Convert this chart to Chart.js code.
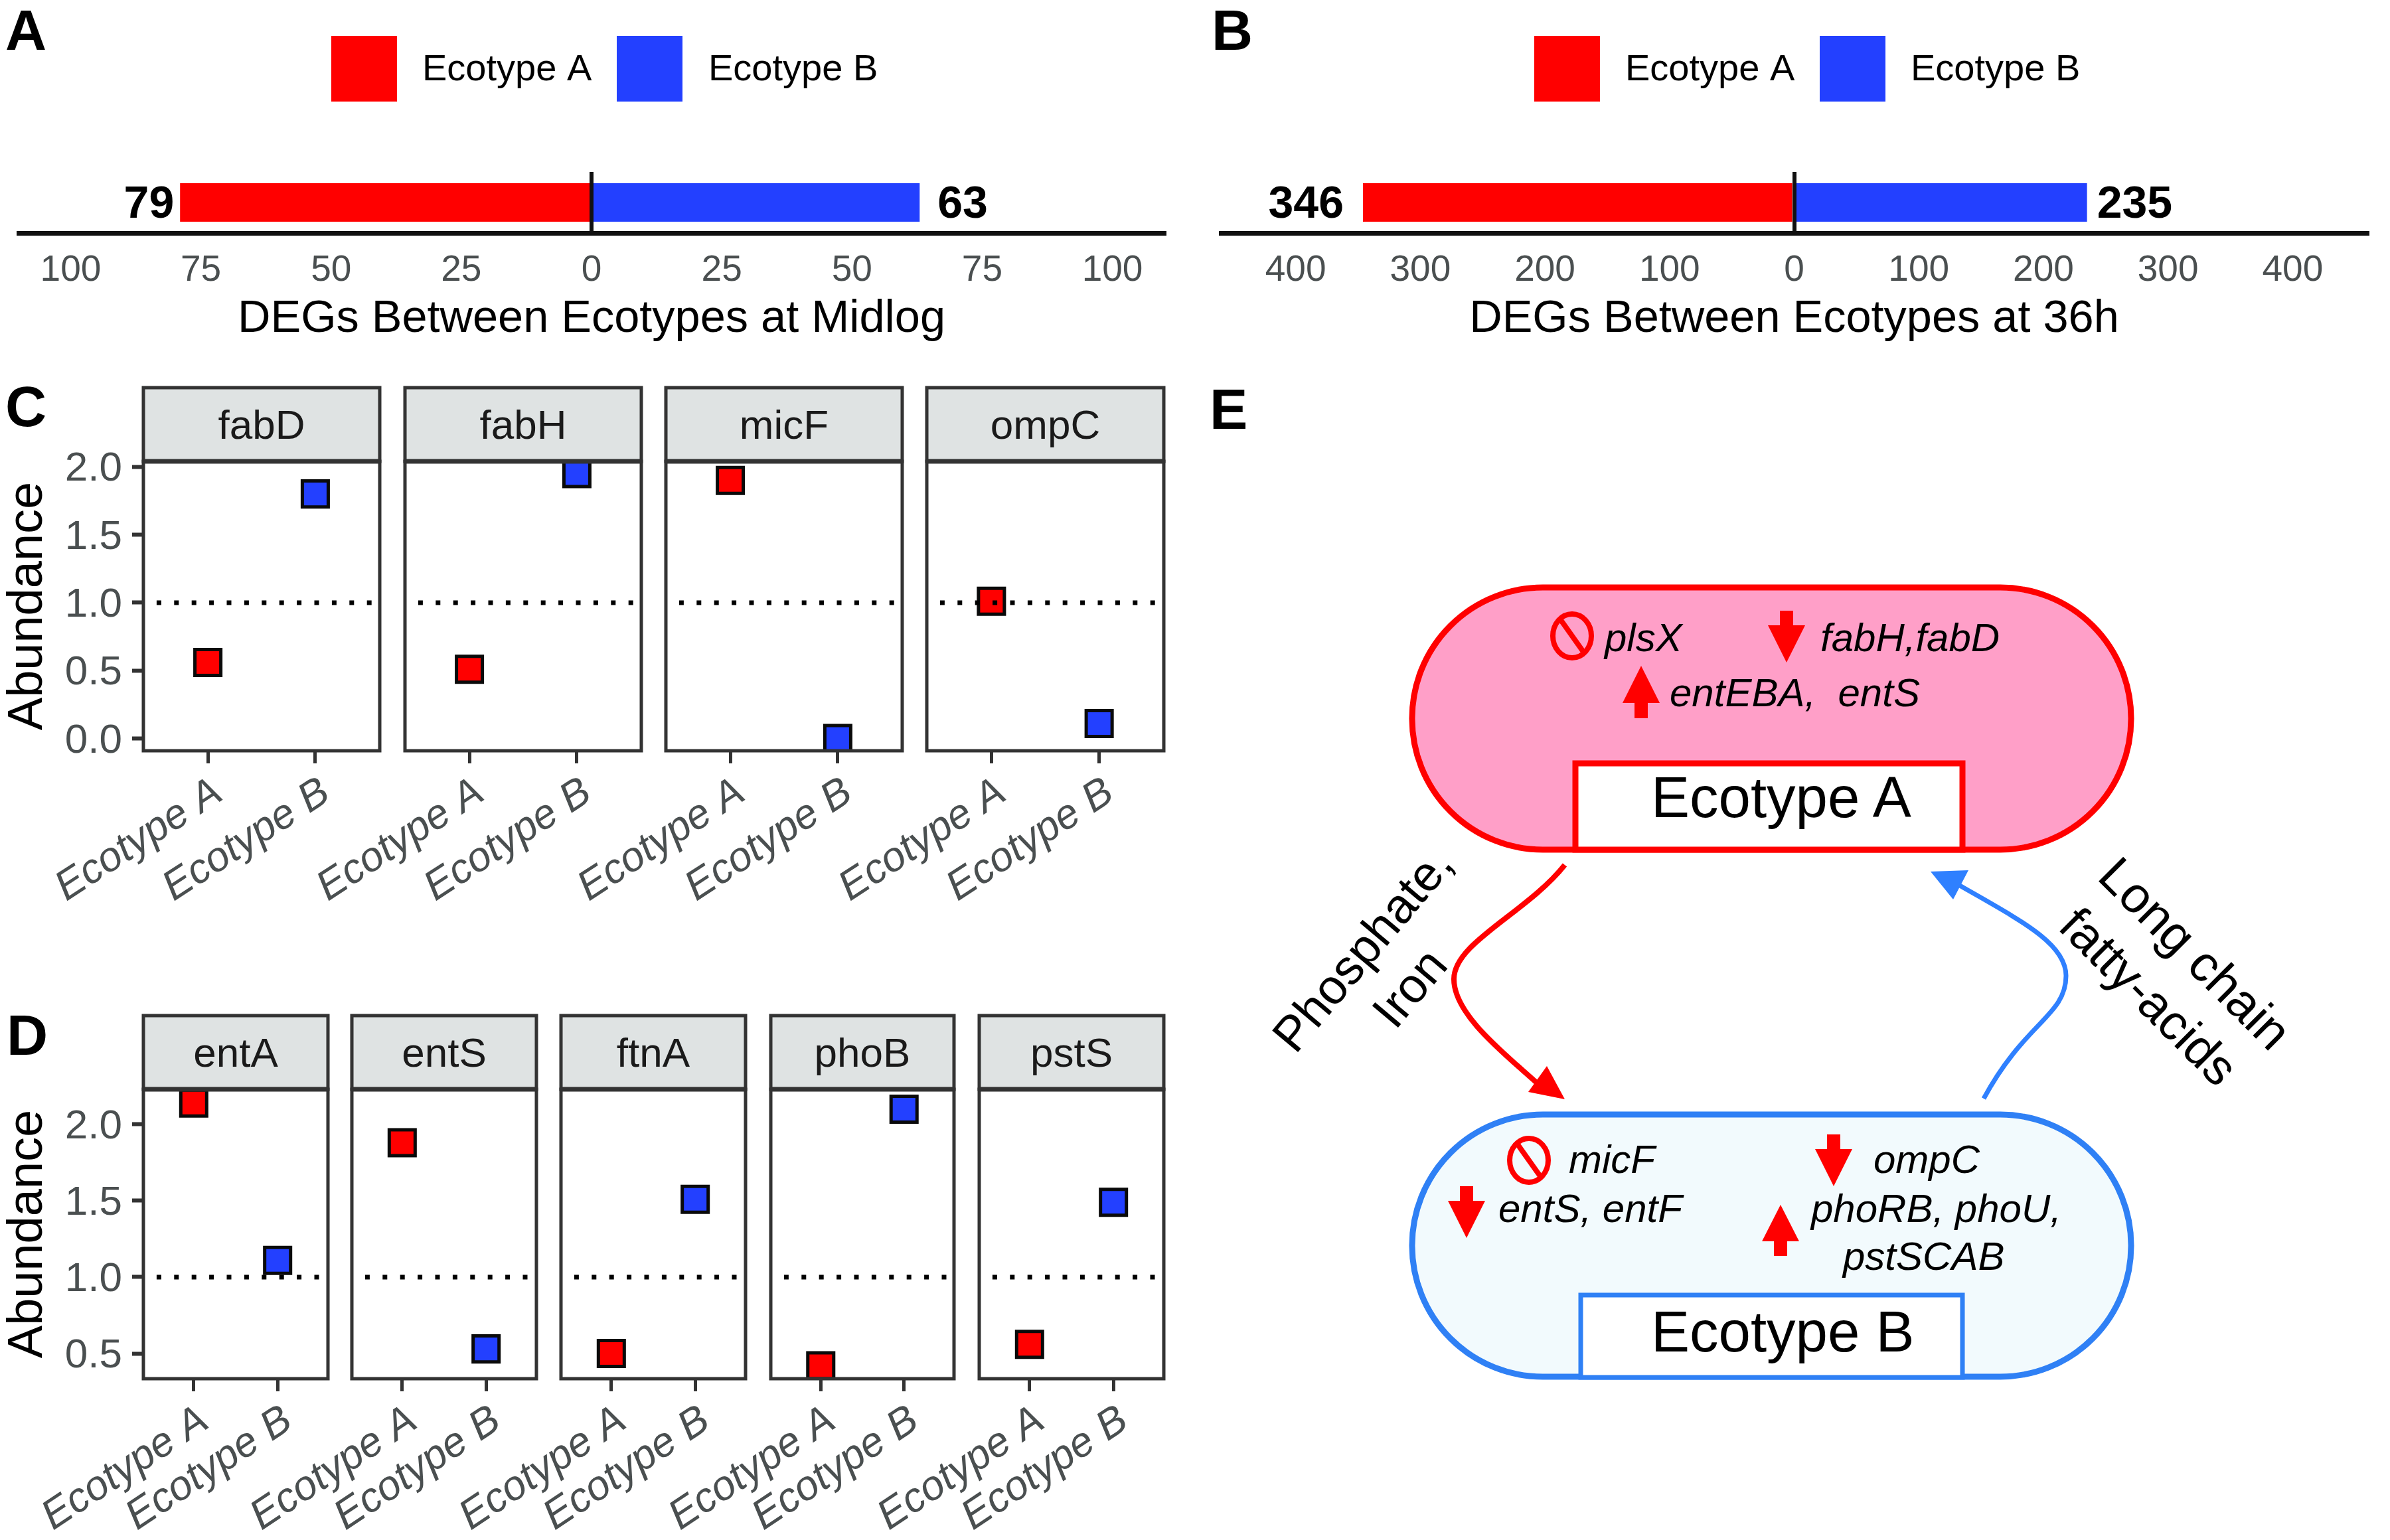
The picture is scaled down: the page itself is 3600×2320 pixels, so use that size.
<!DOCTYPE html>
<html>
<head>
<meta charset="utf-8">
<title>Ecotype DEGs</title>
<script src="https://cdn.jsdelivr.net/npm/chart.js@4/dist/chart.umd.min.js"></script>
<style>
html,body{margin:0;padding:0;background:#fff;}
#stage{position:relative;width:3600px;height:2320px;overflow:hidden;background:#fff;}
canvas{position:absolute;}
svg{position:absolute;left:0;top:0;}
svg text{font-family:"Liberation Sans",Arial,sans-serif;white-space:pre;}
</style>
</head>
<body>
<div id="stage"></div>
<script>
/* ---------- data ---------- */
const ecotypes = ['Ecotype A', 'Ecotype B'];
const midlogCounts = [79, 63];
const lateCounts = [346, 235];
const midlogTicks = [-100, -75, -50, -25, 0, 25, 50, 75, 100];
const lateTicks = [-400, -300, -200, -100, 0, 100, 200, 300, 400];
const genesC = ['fabD', 'fabH', 'micF', 'ompC'];
const abundanceCA = [0.56, 0.51, 1.90, 1.01];
const abundanceCB = [1.80, 1.95, 0.00, 0.11];
const ticksC = [0, 0.5, 1, 1.5, 2];
const genesD = ['entA', 'entS', 'ftnA', 'phoB', 'pstS'];
const abundanceDA = [2.14, 1.88, 0.50, 0.42, 0.56];
const abundanceDB = [1.11, 0.53, 1.51, 2.10, 1.49];
const ticksD = [0.5, 1, 1.5, 2];
const referenceLevel = 1;

/* ---------- style ---------- */
const FONT = '"Liberation Sans", Arial, sans-serif';
const RED = '#FF0000', BLUE = '#2340FF', TICK = '#4A4F50', DARK = '#333333';
const stage = document.getElementById('stage');
Chart.defaults.font.family = FONT;
Chart.defaults.devicePixelRatio = 1;

function makeCanvas(left, top, w, h) {
  const c = document.createElement('canvas');
  c.width = w; c.height = h;
  c.style.left = left + 'px'; c.style.top = top + 'px';
  c.style.width = w + 'px'; c.style.height = h + 'px';
  stage.appendChild(c);
  return c;
}

/* ---------- panels A and B ---------- */
const barDecor = {
  id: 'barDecor',
  afterDatasetsDraw(chart, args, o) {
    const ctx = chart.ctx;
    ctx.save();
    ctx.textBaseline = 'middle';
    chart.data.datasets.forEach((ds, i) => {
      ctx.fillStyle = ds.backgroundColor;
      ctx.fillRect(o.legendBoxX[i], 54, 99, 99);
      ctx.fillStyle = '#000';
      ctx.font = '56px ' + FONT;
      ctx.textAlign = 'left';
      ctx.fillText(ds.label, o.legendTextX[i], 106);
      const el = chart.getDatasetMeta(i).data[0];
      ctx.font = 'bold 68px ' + FONT;
      ctx.textAlign = i === 0 ? 'right' : 'left';
      ctx.fillText(String(Math.abs(ds.data[0])), el.x + (i === 0 ? -o.gap[0] : o.gap[1]), 309);
    });
    ctx.restore();
  }
};

function barPanel(p) {
  const H = 560;
  const c = makeCanvas(p.canvasLeft, 0, 1800, H);
  new Chart(c, {
    type: 'bar',
    plugins: [barDecor],
    data: {
      labels: ['DEGs'],
      datasets: [
        { label: ecotypes[0], data: [-p.counts[0]], backgroundColor: RED, barPercentage: 0.63, categoryPercentage: 1 },
        { label: ecotypes[1], data: [p.counts[1]], backgroundColor: BLUE, barPercentage: 0.63, categoryPercentage: 1 }
      ]
    },
    options: {
      indexAxis: 'y', responsive: false, animation: false, devicePixelRatio: 1,
      layout: { padding: { left: p.areaLeft, right: 1800 - p.areaRight, top: 259, bottom: 0 } },
      plugins: {
        legend: { display: false }, title: { display: false }, tooltip: { enabled: false },
        barDecor: p.decor
      },
      scales: {
        y: { display: false, stacked: true },
        x: {
          stacked: true, min: -p.limit, max: p.limit,
          afterBuildTicks: s => { s.ticks = p.ticks.map(v => ({ value: v })); },
          afterFit: s => { s.height = H - 351; s.paddingLeft = 0; s.paddingRight = 0; },
          grid: {
            z: 1, drawTicks: false, lineWidth: 6,
            color: ctx => (ctx.tick && ctx.tick.value === 0) ? '#111111' : 'rgba(0,0,0,0)'
          },
          border: { display: true, color: '#111111', width: 7, z: 2 },
          ticks: {
            autoSkip: false, maxRotation: 0, minRotation: 0, padding: 24,
            color: TICK, font: { size: 55, family: FONT },
            callback: v => String(Math.abs(v))
          },
          title: {
            display: true, text: p.title, color: '#000',
            font: { size: 68.5, family: FONT, lineHeight: 1 },
            padding: { top: 0, bottom: 45 }
          }
        }
      }
    }
  });
}

barPanel({
  canvasLeft: 0, areaLeft: 28, areaRight: 1754, counts: midlogCounts, limit: 110, ticks: midlogTicks,
  title: 'DEGs Between Ecotypes at Midlog',
  decor: { legendBoxX: [499, 929], legendTextX: [636, 1067], gap: [9, 27] }
});
barPanel({
  canvasLeft: 1800, areaLeft: 39, areaRight: 1766, counts: lateCounts, limit: 460, ticks: lateTicks,
  title: 'DEGs Between Ecotypes at 36h',
  decor: { legendBoxX: [511, 941], legendTextX: [648, 1078], gap: [29, 15] }
});

/* ---------- panels C and D ---------- */
const facetFrame = {
  id: 'facetFrame',
  beforeDraw(chart, args, o) {
    const a = chart.chartArea, ctx = chart.ctx;
    ctx.save();
    ctx.fillStyle = '#DFE3E3';
    ctx.fillRect(a.left, o.stripTop, a.right - a.left, a.top - o.stripTop);
    ctx.restore();
  },
  afterDraw(chart, args, o) {
    const a = chart.chartArea, ctx = chart.ctx;
    ctx.save();
    ctx.strokeStyle = DARK;
    ctx.lineWidth = 5;
    ctx.strokeRect(a.left, a.top, a.right - a.left, a.bottom - a.top);
    ctx.strokeRect(a.left, o.stripTop, a.right - a.left, a.top - o.stripTop);
    ctx.lineWidth = 7;
    ctx.beginPath(); ctx.moveTo(a.left - 2, a.top); ctx.lineTo(a.right + 2, a.top); ctx.stroke();
    ctx.restore();
  }
};

function facetPanel(p) {
  const margin = 216, pad = 4;
  const w = p.right - p.left + margin * 2;
  const canvasTop = p.stripTop - pad;
  const H = p.bottom - canvasTop + 300;
  const c = makeCanvas(p.left - margin, canvasTop, w, H);
  const marker = color => ({
    pointStyle: 'rect', pointRadius: 27.6, pointBackgroundColor: color,
    pointBorderColor: '#0A0A0A', pointBorderWidth: 5, showLine: false, clip: 0, order: 2
  });
  const stripPad = (p.top - p.stripTop - 62) / 2;
  new Chart(c, {
    type: 'scatter',
    plugins: [facetFrame],
    data: {
      datasets: [
        { label: ecotypes[0], data: [{ x: 1, y: p.a }], ...marker(RED) },
        { label: ecotypes[1], data: [{ x: 2, y: p.b }], ...marker(BLUE) },
        {
          label: 'Reference', type: 'line',
          data: [{ x: 0.4, y: referenceLevel }, { x: 2.6, y: referenceLevel }],
          borderColor: '#000', borderWidth: 7, borderDash: [7, 19.4], borderDashOffset: 6.5,
          pointRadius: 0, fill: false, clip: 0, order: 1
        }
      ]
    },
    options: {
      responsive: false, animation: false, devicePixelRatio: 1,
      layout: { padding: { left: p.first ? 0 : margin, right: margin, top: pad, bottom: 0 } },
      plugins: {
        legend: { display: false }, tooltip: { enabled: false },
        facetFrame: { stripTop: pad },
        title: {
          display: true, text: p.gene, color: '#1A1A1A', fullSize: false,
          font: { size: 62, weight: 'normal', family: FONT, lineHeight: 1 },
          padding: { top: stripPad + 4, bottom: stripPad - 4 }
        }
      },
      scales: {
        x: {
          type: 'linear', min: 0.4, max: 2.6,
          afterBuildTicks: s => { s.ticks = [1, 2].map(v => ({ value: v })); },
          afterFit: s => { s.height = H - (p.bottom - canvasTop); s.paddingLeft = 0; s.paddingRight = 0; },
          grid: { drawOnChartArea: false, drawTicks: true, tickLength: 19, tickWidth: 5, tickColor: DARK },
          border: { display: false },
          ticks: {
            autoSkip: false, minRotation: p.angle, maxRotation: p.angle, padding: 7, labelOffset: 16,
            color: TICK, font: { size: 62.5, style: 'italic', family: FONT },
            callback: v => ecotypes[v - 1]
          }
        },
        y: {
          display: !!p.first, min: p.yMin, max: p.yMax,
          afterBuildTicks: s => { s.ticks = p.yTicks.map(v => ({ value: v })); },
          afterFit: s => { if (p.first) s.width = margin; s.paddingTop = 0; s.paddingBottom = 0; },
          grid: { drawOnChartArea: false, drawTicks: true, tickLength: 17, tickWidth: 6, tickColor: DARK },
          border: { display: false },
          ticks: {
            autoSkip: false, padding: 15, labelOffset: 4, color: TICK, font: { size: 62, family: FONT },
            callback: v => Number(v).toFixed(1)
          },
          title: {
            display: true, text: 'Abundance', color: '#000',
            font: { size: 74, family: FONT, lineHeight: 1 },
            padding: { top: 6, bottom: 0 }
          }
        }
      }
    }
  });
}

const boundsC = [[216, 572], [610, 966], [1003, 1359], [1396, 1753]];
genesC.forEach((g, i) => facetPanel({
  gene: g, a: abundanceCA[i], b: abundanceCB[i], left: boundsC[i][0], right: boundsC[i][1],
  stripTop: 584, top: 695, bottom: 1131, yMin: -0.09, yMax: 2.04, yTicks: ticksC, angle: 33, first: i === 0
}));
const boundsD = [[216, 494], [530, 808], [845, 1123], [1161, 1437], [1475, 1753]];
genesD.forEach((g, i) => facetPanel({
  gene: g, a: abundanceDA[i], b: abundanceDB[i], left: boundsD[i][0], right: boundsD[i][1],
  stripTop: 1530, top: 1641, bottom: 2077, yMin: 0.335, yMax: 2.23, yTicks: ticksD, angle: 33.5, first: i === 0
}));

/* ---------- panel E diagram and panel letters ---------- */
function arrow(x, tail, base, tip) {
  return `<polygon fill="${RED}" points="${x-10},${tail} ${x+10},${tail} ${x+10},${base} ${x+28},${base} ${x},${tip} ${x-28},${base} ${x-10},${base}"/>`;
}
function noSign(cx, cy) {
  return `<ellipse cx="${cx}" cy="${cy}" rx="29" ry="33" fill="none" stroke="${RED}" stroke-width="8"/>` +
         `<line x1="${cx-17}" y1="${cy-24}" x2="${cx+17}" y2="${cy+24}" stroke="${RED}" stroke-width="8"/>`;
}
function gene(x, y, t) {
  return `<text x="${x}" y="${y}" font-size="60" font-style="italic" fill="#000">${t}</text>`;
}
function letter(x, y, t) {
  return `<text x="${x}" y="${y}" font-size="86" font-weight="bold" fill="#000">${t}</text>`;
}
function rotated(cx, cy, deg, size, t) {
  return `<text transform="translate(${cx},${cy}) rotate(${deg})" text-anchor="middle" dominant-baseline="central" font-size="${size}" fill="#000">${t}</text>`;
}
const svg =
`<svg width="3600" height="2320" viewBox="0 0 3600 2320" xmlns="http://www.w3.org/2000/svg">
${letter(8, 75, 'A')}${letter(1825, 75, 'B')}${letter(8, 642, 'C')}${letter(10, 1589, 'D')}${letter(1822, 646, 'E')}
<rect x="2127" y="885" width="1083" height="395" rx="197" ry="197" fill="#FF9FC8" stroke="${RED}" stroke-width="9"/>
<rect x="2373" y="1150" width="583" height="130" fill="#fff" stroke="${RED}" stroke-width="9"/>
<text x="2487" y="1231" font-size="87" fill="#000">Ecotype A</text>
${noSign(2368, 958)}${arrow(2691, 920, 942, 998)}${arrow(2472, 1082, 1059, 1003)}
${gene(2417, 981, 'plsX')}${gene(2742, 981, 'fabH,fabD')}${gene(2515, 1064, 'entEBA,  entS')}
<rect x="2127" y="1679" width="1083" height="395" rx="197" ry="197" fill="#F2FAFD" stroke="#2F80F5" stroke-width="9"/>
<rect x="2381" y="1951" width="575" height="124" fill="#fff" stroke="#2F80F5" stroke-width="7"/>
<text x="2487" y="2036" font-size="87" fill="#000">Ecotype B</text>
${noSign(2303, 1748)}${arrow(2762, 1709, 1731, 1787)}${arrow(2209, 1787, 1809, 1865)}${arrow(2682, 1892, 1870, 1815)}
${gene(2363, 1767, 'micF')}${gene(2822, 1767, 'ompC')}${gene(2257, 1841, 'entS, entF')}${gene(2728, 1841, 'phoRB, phoU,')}${gene(2776, 1913, 'pstSCAB')}
<path d="M2357 1303 C2300 1375 2190 1420 2190 1475 C2190 1530 2270 1590 2320 1636" fill="none" stroke="${RED}" stroke-width="8"/>
<polygon fill="${RED}" points="2357,1656 2330,1606 2302,1645"/>
<path d="M2988 1655 C3050 1540 3112 1530 3112 1470 C3112 1420 3040 1385 2945 1330" fill="none" stroke="#2F80FF" stroke-width="7"/>
<polygon fill="#2F80FF" points="2908,1313 2965,1311 2942,1355"/>
${rotated(2052, 1430, -50, 74, 'Phosphate,')}${rotated(2123, 1488, -50, 74, 'Iron')}
${rotated(3307, 1436, 45, 76, 'Long chain')}${rotated(3237, 1501, 45, 75, 'fatty-acids')}
</svg>`;
stage.insertAdjacentHTML('beforeend', svg);
</script>
</body>
</html>
